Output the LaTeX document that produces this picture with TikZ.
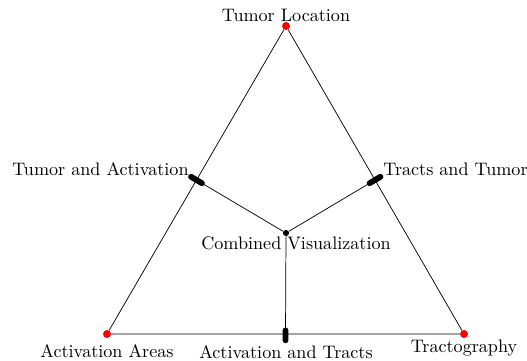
\documentclass[tikz,border=0pt]{standalone}
\usepackage{tikz}
\usetikzlibrary{calc, positioning}

\begin{document}
\begin{tikzpicture} [x = 0.0194cm, y = -0.0194cm,
	corner/.style = {circle, fill = red, inner sep = 0pt, minimum size = 4.2pt},
	centre/.style = {circle, fill = black, inner sep = 0pt, minimum size = 3.4pt},
	blob/.style = {line width = 3.2pt, line cap = round}]
			\useasboundingbox (0,0) rectangle (527,360);
			% Corners of the triangle
			\node (tl) [corner] at (286,26) {};
			\node (aa) [corner] at (107,334) {};
			\node (tr) [corner] at (464,334) {};
			% Centre and edge midpoints
			\node (cv) [centre] at (286,233) {};
			\coordinate (ta) at ($(tl)!0.5!(aa)$);
			\coordinate (tt) at ($(tl)!0.5!(tr)$);
			\coordinate (at) at ($(aa)!0.5!(tr)$);
			% Labels
			\node at (286,15) {Tumor Location};
			\node [below = 0pt of aa] {Activation Areas};
			\node at (464,348) {Tractography};
			\node at (286,352) {Activation and Tracts};
			\node [anchor = south east] at (195,182) {Tumor and Activation};
			\node [anchor = south west] at (377,182) {Tracts and Tumor};
			\node at (296,243) {Combined Visualization};
			% Draw Connections
			\draw (tl) -- (aa) -- (tr) -- (tl);
			\draw (ta) -- (cv) (tt) -- (cv) (at) -- (cv);
			\draw [blob] ($(ta)!-3.5pt!(cv)$) -- ($(ta)!3.5pt!(cv)$);
			\draw [blob] ($(tt)!-3.5pt!(cv)$) -- ($(tt)!3.5pt!(cv)$);
			\draw [blob] ($(at)!-3.5pt!(cv)$) -- ($(at)!2pt!(cv)$);
			% Dots on top
			\node [corner] at (tl) {};
			\node [corner] at (aa) {};
			\node [corner] at (tr) {};
		\end{tikzpicture}
\end{document}
